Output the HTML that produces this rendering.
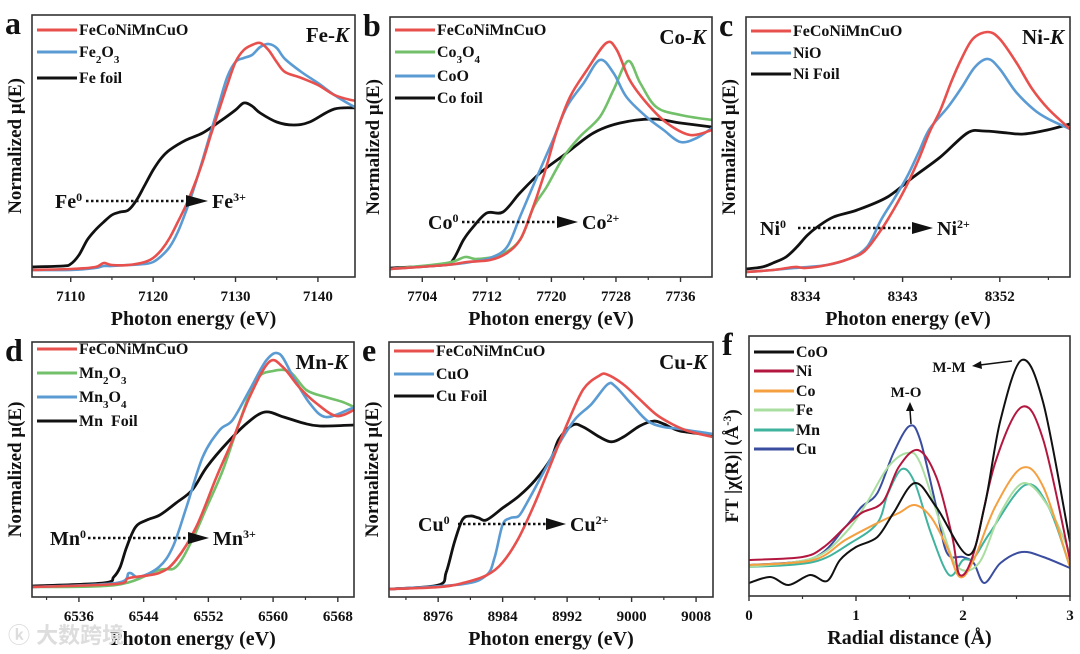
<!DOCTYPE html>
<html><head><meta charset="utf-8"><style>
html,body{margin:0;padding:0;background:#fff;}
svg{display:block;font-family:"Liberation Serif",serif;font-weight:bold;}
</style></head><body>
<svg id="fig" width="1080" height="654" viewBox="0 0 1080 654" xmlns="http://www.w3.org/2000/svg"></svg>
<script>
// ---------- Panel a: Fe-K ----------
const aRedE=[7105,7110,7113,7114,7115,7117,7119,7120,7121,7122,7123,7124,7125,7126,7127,7128,7129,7130,7131,7132,7133,7134,7135,7136,7138,7140,7142,7144,7145];
const aRedY=[7,8,10,14,12,12,15,19,27,39,55,72,92,115,142,167,192,215,227,232,234,227,215,205,199,192,182,177,176];
const aBlueE=[7105,7110,7113,7114,7115,7117,7119,7120,7121,7122,7123,7124,7125,7126,7127,7128,7129,7130,7131,7132,7133,7134,7135,7136,7138,7140,7142,7144,7145];
const aBlueY=[7,7,9,11,11,12,13,15,21,30,45,66,90,117,145,173,200,215,219,222,230,233,229,218,205,194,182,172,168];
const aBlackE=[7105,7109,7110,7111,7112,7113,7114,7115,7116,7117,7118,7119,7120,7121,7122,7124,7126,7128,7130,7131,7132,7133,7135,7137,7139,7142,7145];
const aBlackY=[10,11,13,22,37,47,55,62,65,67,77,92,107,119,127,137,144,155,167,174,171,164,155,152,155,168,169];
const aTicks=[7110,7120,7130,7140];
// ---------- Panel b: Co-K ----------
const bRedE=[7700,7707,7709.5,7712.4,7714.5,7716.1,7717.3,7719,7720.6,7722.3,7724.4,7726.8,7728.1,7729.7,7731.8,7734.3,7737.2,7739.9];
const bRedY=[8,12,15,17,24,37,60,100,144,180,207,234,227,197,174,154,142,147];
const bGreenE=[7700,7707,7709.3,7710.7,7713.6,7716.1,7717.8,7719.4,7721.5,7723.5,7726,7727.7,7729.5,7731,7733,7736,7739.9];
const bGreenY=[8,14,20,18,22,37,70,90,120,140,160,187,216,194,170,162,157];
const bBlueE=[7700,7707,7710,7712.4,7714.5,7716.1,7718.2,7720.2,7721.9,7724,7726,7727.7,7729.3,7731.8,7733.9,7736,7738,7739.9];
const bBlueY=[8,12,15,19,30,60,100,137,170,194,217,204,180,160,147,135,139,149];
const bBlackE=[7700,7706.6,7707.8,7709.1,7710.3,7712,7714,7716.1,7718.6,7721.9,7725.2,7728.5,7732.6,7736,7739.9];
const bBlackY=[9,12,17,37,50,64,65,84,104,124,144,154,158,154,150];
const bTicks=[7704,7712,7720,7728,7736];
// ---------- Panel c: Ni-K ----------
const cRedE=[8328.5,8331,8333,8334,8336,8338,8339.5,8341,8342.2,8343.4,8344.5,8345.5,8346.5,8347.5,8348.4,8349.5,8350.9,8352,8353.5,8355,8356.5,8358.5];
const cRedY=[5,7,10,9,12,18,26,47,68,92,118,145,167,195,217,238,245,238,215,188,168,148];
const cBlueE=[8328.5,8331,8333,8336,8338,8339.7,8341,8342.2,8343.4,8344.5,8345.5,8347.2,8348.5,8349.7,8350.9,8352,8353.5,8355.2,8356.5,8358.5];
const cBlueY=[5,7,9,12,18,30,57,78,100,125,148,170,190,210,218,208,185,167,158,148];
const cBlackE=[8328.5,8330,8331,8332.2,8333.2,8334.2,8335.1,8336.6,8338.8,8341.6,8344,8346.5,8349,8350.5,8352.7,8354.2,8356.4,8358.5];
const cBlackY=[8,10,14,20,30,42,50,60,67,80,100,120,144,146,144,143,147,153];
const cTicks=[8334,8343,8352];
// ---------- Panel d: Mn-K ----------
const dRedE=[6530.2,6540.6,6542.2,6545.9,6548,6550.5,6553,6555,6557.1,6559.5,6561.2,6563.2,6565.3,6567.8,6570];
const dRedY=[10,13,19,24,37,70,120,157,200,235,230,210,194,181,187];
const dGreenE=[6530.2,6540.6,6545.9,6548,6550,6551.8,6553.8,6555.8,6557.9,6560,6562.1,6564.1,6566.5,6568.6,6570];
const dGreenY=[10,12,27,30,57,90,127,174,217,226,225,207,200,195,190];
const dBlueE=[6530.2,6540.6,6542.2,6543.4,6545.9,6547.6,6549.3,6551.3,6553.4,6555,6557.1,6559.2,6560.8,6562.5,6564.5,6566.5,6569.5,6570];
const dBlueY=[10,14,24,20,30,50,90,140,167,177,207,237,243,220,194,180,188,190];
const dBlackE=[6530.2,6539,6540.3,6541.1,6541.9,6543,6544.4,6546,6548,6550,6551.8,6554.3,6556.8,6559,6561.3,6563.7,6565.8,6570];
const dBlackY=[11,14,20,30,50,70,77,82,94,107,130,154,174,185,180,174,171,172];
const dTicks=[6536,6544,6552,6560,6568];
// ---------- Panel e: Cu-K ----------
const eRedE=[8970,8976,8979,8982,8984,8986,8988,8990,8992,8994,8996,8997,8999,9001,9003,9005,9007,9010];
const eRedY=[8,10,14,22,35,60,95,135,175,210,224,225,215,200,185,175,168,162];
const eBlueE=[8970,8979,8982,8983,8984,8985,8986,8987,8989,8991,8993,8995,8997,8998,9000,9002,9004,9006,9010];
const eBlueY=[8,13,22,40,73,80,82,95,125,155,180,195,215,213,195,178,172,170,165];
const eBlackE=[8970,8976,8977,8978,8979,8980,8981,8982,8984,8986,8988,8990,8991,8992.7,8994,8996,8997.5,8999,9001,9002.7,9004,9006,9010];
const eBlackY=[8,12,25,55,78,82,80,78,90,102,118,140,160,174,172,162,157,162,173,178,175,168,164];
const eTicks=[8976,8984,8992,9000,9008];
// ---------- Panel f: FT-EXAFS ----------
const fCoOR=[0,0.2,0.37,0.57,0.73,0.85,1.0,1.2,1.35,1.55,1.75,2.05,2.2,2.35,2.55,2.75,3.0];
const fCoOY=[13,19,11,21,15,36,49,59,83,113,89,41,89,176,236,193,54];
const fNiR=[0,0.5,0.7,0.9,1.05,1.25,1.4,1.58,1.75,1.9,1.97,2.1,2.3,2.55,2.75,3.0];
const fNiY=[36,39,49,69,83,94,129,146,119,59,21,43,133,189,156,36];
const fCoR=[0,0.6,0.9,1.2,1.4,1.55,1.7,1.85,1.97,2.1,2.3,2.55,2.75,3.0];
const fCoY=[31,36,56,73,83,91,79,49,19,36,89,128,109,29];
const fFeR=[0,0.6,0.9,1.1,1.3,1.48,1.6,1.8,1.95,2.15,2.35,2.57,2.8,3.0];
const fFeY=[29,38,63,93,129,143,133,69,29,33,83,113,89,43];
const fMnR=[0,0.6,0.95,1.2,1.3,1.43,1.55,1.7,1.87,2.0,2.1,2.25,2.58,2.8,3.0];
const fMnY=[29,34,53,73,103,127,113,63,21,36,38,63,111,89,29];
const fCuR=[0,0.6,0.9,1.05,1.2,1.35,1.5,1.6,1.75,1.85,2.0,2.1,2.2,2.35,2.55,2.75,3.0];
const fCuY=[31,38,69,89,103,143,170,156,89,43,39,33,13,33,44,39,28];
const fTicks=[0,1,2,3];

const NS="http://www.w3.org/2000/svg";
const svg=document.getElementById('fig');
const C={red:"#e8504d",blue:"#5b9bd3",green:"#72c069",black:"#111"};
function mk(tag,attrs,parent){const e=document.createElementNS(NS,tag);for(const k in attrs)e.setAttribute(k,attrs[k]);(parent||svg).appendChild(e);return e;}
function spline(pts){let d="M"+pts[0][0].toFixed(1)+","+pts[0][1].toFixed(1);
 for(let i=0;i<pts.length-1;i++){const p0=pts[Math.max(0,i-1)],p1=pts[i],p2=pts[i+1],p3=pts[Math.min(pts.length-1,i+2)];
  const c1x=p1[0]+(p2[0]-p0[0])/6,c1y=p1[1]+(p2[1]-p0[1])/6,c2x=p2[0]-(p3[0]-p1[0])/6,c2y=p2[1]-(p3[1]-p1[1])/6;
  d+=" C"+c1x.toFixed(1)+","+c1y.toFixed(1)+" "+c2x.toFixed(1)+","+c2y.toFixed(1)+" "+p2[0].toFixed(1)+","+p2[1].toFixed(1);}
 return d;}
function txt(x,y,s,size,anchor,name,g){const t=mk('text',{x:x,y:y,'font-size':size,'text-anchor':anchor||'start',fill:'#111'},g);t.innerHTML=s;
 
 return t;}

function panel(P){
 const g=mk('g',{});
 
 
 const sx=v=>P.x0+(v-P.xmin)/(P.xmax-P.xmin)*(P.x1-P.x0);
 const sy=v=>P.y1-(v-P.ymin)/(P.ymax-P.ymin)*(P.y1-P.y0);
 const clip=mk('clipPath',{id:'clip'+P.id},g);mk('rect',{x:P.x0,y:P.y0,width:P.x1-P.x0,height:P.y1-P.y0},clip);
 const sg=mk('g',{'clip-path':'url(#clip'+P.id+')'},g);
 P.series.forEach(s=>{const pts=s.x.map((v,i)=>[sx(v),sy(s.y[i])]);
  const p=mk('path',{d:spline(pts),fill:'none',stroke:s.color,'stroke-width':s.w||2.6,'stroke-linejoin':'round'},sg);
  
  });
 const box=mk('rect',{x:P.x0,y:P.y0,width:P.x1-P.x0,height:P.y1-P.y0,fill:'none',stroke:'#333','stroke-width':1.6},g);
 
 
 P.ticks.forEach((t,i)=>{const x=sx(t);mk('line',{x1:x,x2:x,y1:P.y1,y2:P.y1+5,stroke:'#333','stroke-width':1.4},g);
  txt(x,P.y1+24,String(t),15,'middle','x-tick-label',g);
  if(i<P.ticks.length-1){const xm=sx((t+P.ticks[i+1])/2);mk('line',{x1:xm,x2:xm,y1:P.y1,y2:P.y1+3,stroke:'#333','stroke-width':1.2},g);}
  if(i===0){const xm=sx(t-(P.ticks[1]-t)/2);if(xm>P.x0+2)mk('line',{x1:xm,x2:xm,y1:P.y1,y2:P.y1+3,stroke:'#333','stroke-width':1.2},g);}
  if(i===P.ticks.length-1){const xm=sx(t+(t-P.ticks[i-1])/2);if(xm<P.x1-2)mk('line',{x1:xm,x2:xm,y1:P.y1,y2:P.y1+3,stroke:'#333','stroke-width':1.2},g);}
 });
 txt((P.x0+P.x1)/2,P.y1+48,P.xlabel,20,'middle','x-axis-title',g);
 const yl=txt(0,0,P.ylabel,19,'middle','y-axis-title',g);
 yl.setAttribute('transform','translate('+(P.x0-11)+','+((P.y0+P.y1)/2)+') rotate(-90)');
 txt(P.x0-27,P.y0+19,P.id,32,'start','panel-letter',g);
 P.legend.forEach((L,i)=>{const y=P.legY[i];
  const ln=mk('line',{x1:P.x0+5,x2:P.x0+45,y1:y,y2:y,stroke:L.color,'stroke-width':3},g);
  
  
  txt(P.x0+47,y+5,L.label,16,'start','legend-entry',g);});
 if(P.title)txt(P.x1-6,P.y0+27,P.title,21,'end','edge-title',g);
 if(P.ann){const A=P.ann;
  txt(A.x,A.y+7,A.from,20,'start','oxidation-from-label',g);
  const dl=mk('line',{x1:A.d0,x2:A.d1,y1:A.y,y2:A.y,stroke:'#111','stroke-width':2.5,'stroke-dasharray':'2.5,2.5'},g);
  
  
  mk('polygon',{points:A.d1+','+(A.y-6)+' '+A.h+','+A.y+' '+A.d1+','+(A.y+6),fill:'#111'},g);
  txt(A.h+4,A.y+7,A.to,20,'start','oxidation-to-label',g);}
 return {sx,sy,g};
}
const sup=(b,s)=>b+'<tspan baseline-shift="super" font-size="12">'+s+'</tspan>';
const sub=s=>'<tspan baseline-shift="sub" font-size="11">'+s+'</tspan>';
const XL='Photon energy (eV)',YL='Normalized μ(E)';

panel({id:'a',x0:32,x1:355,y0:15,y1:277,xmin:7105.3,xmax:7144.5,ymin:0,ymax:262,ticks:aTicks,xlabel:XL,ylabel:YL,title:'Fe-<tspan font-style="italic">K</tspan>',
 series:[{key:'fe-foil',x:aBlackE,y:aBlackY,color:C.black,w:2.8},{key:'fe2o3',x:aBlueE,y:aBlueY,color:C.blue},{key:'fecoonimncuo',x:aRedE,y:aRedY,color:C.red}],
 legend:[{label:'FeCoNiMnCuO',color:C.red},{label:'Fe'+sub('2')+'O'+sub('3'),color:C.blue},{label:'Fe foil',color:C.black}],legY:[30,52,78],
 ann:{x:55,y:201,from:sup('Fe','0'),d0:86,d1:186,h:208,to:sup('Fe','3+')}});
panel({id:'b',x0:390,x1:712,y0:17,y1:277,xmin:7700,xmax:7739.9,ymin:0,ymax:260,ticks:bTicks,xlabel:XL,ylabel:YL,title:'Co-<tspan font-style="italic">K</tspan>',
 series:[{key:'co-foil',x:bBlackE,y:bBlackY,color:C.black,w:2.8},{key:'co3o4',x:bGreenE,y:bGreenY,color:C.green},{key:'coo',x:bBlueE,y:bBlueY,color:C.blue},{key:'fecoonimncuo',x:bRedE,y:bRedY,color:C.red}],
 legend:[{label:'FeCoNiMnCuO',color:C.red},{label:'Co'+sub('3')+'O'+sub('4'),color:C.green},{label:'CoO',color:C.blue},{label:'Co foil',color:C.black}],legY:[30,52,76,98],
 ann:{x:428,y:222,from:sup('Co','0'),d0:462,d1:557,h:578,to:sup('Co','2+')}});
panel({id:'c',x0:746,x1:1070,y0:17,y1:277,xmin:8328.5,xmax:8358.5,ymin:0,ymax:260,ticks:cTicks,xlabel:XL,ylabel:YL,title:'Ni-<tspan font-style="italic">K</tspan>',
 series:[{key:'ni-foil',x:cBlackE,y:cBlackY,color:C.black,w:2.8},{key:'nio',x:cBlueE,y:cBlueY,color:C.blue},{key:'fecoonimncuo',x:cRedE,y:cRedY,color:C.red}],
 legend:[{label:'FeCoNiMnCuO',color:C.red},{label:'NiO',color:C.blue},{label:'Ni Foil',color:C.black}],legY:[31,53,74],
 ann:{x:760,y:228,from:sup('Ni','0'),d0:798,d1:912,h:933,to:sup('Ni','2+')}});
panel({id:'d',x0:32,x1:354,y0:342,y1:597,xmin:6530.2,xmax:6570,ymin:0,ymax:255,ticks:dTicks,xlabel:XL,ylabel:YL,title:'Mn-<tspan font-style="italic">K</tspan>',
 series:[{key:'mn-foil',x:dBlackE,y:dBlackY,color:C.black,w:2.8},{key:'mn2o3',x:dGreenE,y:dGreenY,color:C.green},{key:'mn3o4',x:dBlueE,y:dBlueY,color:C.blue},{key:'fecoonimncuo',x:dRedE,y:dRedY,color:C.red}],
 legend:[{label:'FeCoNiMnCuO',color:C.red},{label:'Mn'+sub('2')+'O'+sub('3'),color:C.green},{label:'Mn'+sub('3')+'O'+sub('4'),color:C.blue},{label:'Mn&#160;&#160;Foil',color:C.black}],legY:[349,373,397,421],
 ann:{x:50,y:538,from:sup('Mn','0'),d0:88,d1:188,h:209,to:sup('Mn','3+')}});
panel({id:'e',x0:389,x1:713,y0:342,y1:597,xmin:8969.9,xmax:9010.1,ymin:0,ymax:258,ticks:eTicks,xlabel:XL,ylabel:YL,title:'Cu-<tspan font-style="italic">K</tspan>',
 series:[{key:'cu-foil',x:eBlackE,y:eBlackY,color:C.black,w:2.8},{key:'cuo',x:eBlueE,y:eBlueY,color:C.blue},{key:'fecoonimncuo',x:eRedE,y:eRedY,color:C.red}],
 legend:[{label:'FeCoNiMnCuO',color:C.red},{label:'CuO',color:C.blue},{label:'Cu Foil',color:C.black}],legY:[351,374,396],
 ann:{x:418,y:524,from:sup('Cu','0'),d0:458,d1:546,h:566,to:sup('Cu','2+')}});
const F=panel({id:'f',x0:749,x1:1070,y0:336,y1:596,xmin:0,xmax:3,ymin:0,ymax:260,ticks:fTicks,xlabel:'Radial distance (Å)',ylabel:'FT |χ(R)| (Å<tspan baseline-shift="super" font-size="12">-3</tspan>)',
 series:[{key:'cu',x:fCuR,y:fCuY,color:'#3a4d9f',w:2},{key:'mn',x:fMnR,y:fMnY,color:'#3fb39e',w:2},{key:'fe',x:fFeR,y:fFeY,color:'#a9dea0',w:2},{key:'co',x:fCoR,y:fCoY,color:'#f5a040',w:2},{key:'ni',x:fNiR,y:fNiY,color:'#b3173f',w:2},{key:'coo',x:fCoOR,y:fCoOY,color:'#111',w:2}],
 legend:[{label:'CoO',color:'#111'},{label:'Ni',color:'#b3173f'},{label:'Co',color:'#f5a040'},{label:'Fe',color:'#a9dea0'},{label:'Mn',color:'#3fb39e'},{label:'Cu',color:'#3a4d9f'}],legY:[352,371,391,410,430,449]});
txt(906,397,'M-O',15,'middle','m-o-label',F.g);
const a1=mk('line',{x1:911,y1:424,x2:910,y2:410,stroke:'#111','stroke-width':1.5},F.g);


mk('polygon',{points:'906,411 910,402 914,411',fill:'#111'},F.g);
txt(949,372,'M-M',15,'middle','m-m-label',F.g);
const a2=mk('line',{x1:1012,y1:361,x2:980,y2:365,stroke:'#111','stroke-width':1.5},F.g);


mk('polygon',{points:'981,361 972,366 982,369',fill:'#111'},F.g);
const wm=txt(8,643,'ⓚ 大数跨境',22,'start','watermark',svg);
wm.setAttribute('fill','#ddd');
wm.setAttribute('font-family','"Liberation Sans","Noto Sans CJK SC",sans-serif');
</script>
</body></html>
